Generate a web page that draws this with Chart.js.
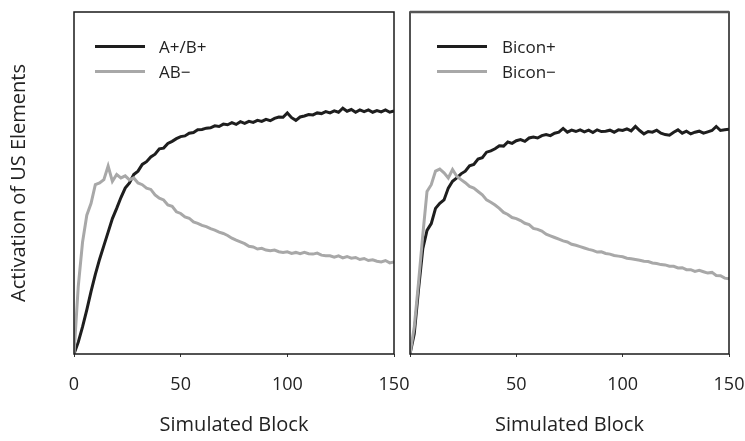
<!DOCTYPE html>
<html>
<head>
<meta charset="utf-8">
<script src="https://cdn.jsdelivr.net/npm/chart.js@4.4.1/dist/chart.umd.min.js"></script>
<style>
    body { margin: 0; background: #fff; }
    #wrap { position: relative; width: 745px; height: 441px; font-family: "Open Sans", sans-serif; }
    canvas { position: absolute; top: 0; }
    #leftChart { left: 0; }
    #rightChart { left: 400px; }
    .key { position: absolute; height: 20px; line-height: 20px; font-size: 17px; color: #222; white-space: nowrap; }
    .key span { position: absolute; top: 8px; width: 50px; height: 3px; }
    .key b { position: absolute; font-weight: normal; }
</style>
</head>
<body>
<div id="wrap">
    <canvas id="leftChart" width="420" height="441"></canvas>
    <canvas id="rightChart" width="345" height="441"></canvas>

    <div class="key" style="left:95px; top:37px;"><span style="background:#1e1e1e"></span><b style="left:64px">A+/B+</b></div>
    <div class="key" style="left:95px; top:62px;"><span style="background:#a8a8a8"></span><b style="left:64px">AB−</b></div>
    <div class="key" style="left:437px; top:37px;"><span style="background:#1e1e1e"></span><b style="left:65px">Bicon+</b></div>
    <div class="key" style="left:437px; top:62px;"><span style="background:#a8a8a8"></span><b style="left:65px">Bicon−</b></div>
</div>

<script>
const blocks = [0, 2, 4, 6, 8, 10, 12, 14, 16, 18, 20, 22, 24, 26, 28, 30, 32, 34, 36, 38,
    40, 42, 44, 46, 48, 50, 52, 54, 56, 58, 60, 62, 64, 66, 68, 70, 72, 74, 76, 78,
    80, 82, 84, 86, 88, 90, 92, 94, 96, 98, 100, 102, 104, 106, 108, 110, 112, 114, 116, 118,
    120, 122, 124, 126, 128, 130, 132, 134, 136, 138, 140, 142, 144, 146, 148, 150];

const xTicks = [0, 50, 100, 150];

// left panel: A+/B+ and AB-
const abPlus = [0.00, 0.035, 0.08, 0.13, 0.185, 0.235, 0.28, 0.32, 0.36, 0.40,
    0.43, 0.462, 0.49, 0.505, 0.53, 0.54, 0.56, 0.568, 0.582, 0.59,
    0.606, 0.608, 0.622, 0.628, 0.636, 0.642, 0.644, 0.652, 0.654, 0.662,
    0.663, 0.667, 0.668, 0.674, 0.672, 0.679, 0.677, 0.683, 0.678, 0.686,
    0.681, 0.687, 0.684, 0.69, 0.687, 0.693, 0.689, 0.696, 0.70, 0.699,
    0.712, 0.698, 0.69, 0.70, 0.703, 0.707, 0.706, 0.712, 0.71, 0.716,
    0.712, 0.718, 0.714, 0.726, 0.717, 0.722, 0.714, 0.721, 0.716, 0.721,
    0.714, 0.719, 0.715, 0.721, 0.714, 0.718];

const abMinus = [0.00, 0.20, 0.33, 0.41, 0.445, 0.50, 0.505, 0.515, 0.555, 0.51,
    0.53, 0.52, 0.526, 0.514, 0.52, 0.505, 0.50, 0.49, 0.486, 0.47,
    0.46, 0.455, 0.44, 0.436, 0.42, 0.415, 0.405, 0.401, 0.39, 0.386,
    0.38, 0.376, 0.37, 0.366, 0.36, 0.356, 0.35, 0.342, 0.336, 0.331,
    0.326, 0.318, 0.316, 0.31, 0.312, 0.307, 0.305, 0.307, 0.302, 0.30,
    0.302, 0.297, 0.30, 0.296, 0.30, 0.296, 0.295, 0.298, 0.292, 0.29,
    0.29, 0.286, 0.29, 0.284, 0.288, 0.283, 0.285, 0.279, 0.282, 0.276,
    0.278, 0.274, 0.272, 0.276, 0.269, 0.272];

// right panel: Bicon+ and Bicon-
const biconPlus = [0.00, 0.06, 0.19, 0.31, 0.365, 0.385, 0.43, 0.445, 0.455, 0.49,
    0.51, 0.52, 0.532, 0.54, 0.556, 0.56, 0.576, 0.58, 0.596, 0.60,
    0.606, 0.615, 0.614, 0.626, 0.622, 0.63, 0.633, 0.628, 0.638, 0.641,
    0.638, 0.645, 0.648, 0.645, 0.652, 0.655, 0.666, 0.655, 0.661, 0.657,
    0.662, 0.656, 0.661, 0.654, 0.662, 0.657, 0.658, 0.661, 0.655, 0.662,
    0.66, 0.665, 0.659, 0.672, 0.66, 0.65, 0.657, 0.655, 0.661, 0.652,
    0.648, 0.646, 0.655, 0.662, 0.652, 0.658, 0.65, 0.655, 0.658, 0.652,
    0.656, 0.66, 0.672, 0.66, 0.662, 0.664];

const biconMinus = [0.00, 0.08, 0.21, 0.35, 0.48, 0.50, 0.54, 0.546, 0.535, 0.52,
    0.545, 0.525, 0.515, 0.506, 0.495, 0.49, 0.48, 0.47, 0.455, 0.448,
    0.44, 0.43, 0.418, 0.412, 0.403, 0.40, 0.394, 0.386, 0.382, 0.371,
    0.368, 0.363, 0.354, 0.349, 0.344, 0.339, 0.334, 0.331, 0.324, 0.321,
    0.317, 0.313, 0.309, 0.306, 0.301, 0.302, 0.297, 0.295, 0.291, 0.289,
    0.287, 0.283, 0.281, 0.279, 0.277, 0.274, 0.273, 0.269, 0.267, 0.264,
    0.263, 0.259, 0.259, 0.254, 0.255, 0.249, 0.249, 0.244, 0.247, 0.243,
    0.239, 0.241, 0.232, 0.231, 0.224, 0.222];

const BLACK = '#1e1e1e';
const GREY = '#a8a8a8';
const FONT = '"Open Sans", sans-serif';

function toPoints(values) {
    return blocks.map((b, i) => ({ x: b, y: values[i] }));
}

function lineSet(label, values, color) {
    return {
        label: label,
        data: toPoints(values),
        borderColor: color,
        borderWidth: 3,
        pointRadius: 0,
        tension: 0,
        fill: false
    };
}

// box around the plot area
const frame = {
    id: 'frame',
    afterDraw(chart, args, opts) {
        const { ctx, chartArea: a } = chart;
        ctx.save();
        ctx.strokeStyle = '#1a1a1a';
        ctx.lineWidth = 1.5;
        ctx.strokeRect(a.left, a.top, a.right - a.left, a.bottom - a.top);
        if (opts.topColor) {
            ctx.strokeStyle = opts.topColor;
            ctx.lineWidth = 2.5;
            ctx.beginPath();
            ctx.moveTo(a.left, a.top);
            ctx.lineTo(a.right, a.top);
            ctx.stroke();
        }
        ctx.restore();
    }
};

function xScale(hideZero) {
    return {
        type: 'linear',
        min: 0,
        max: 150,
        afterBuildTicks: (s) => { s.ticks = xTicks.map(v => ({ value: v })); },
        afterFit: (s) => {
            // keep the plot edges where the layout padding puts them
            s.height = 87;
            s.paddingLeft = 0;
            s.paddingRight = 0;
        },
        grid: { display: true, drawOnChartArea: false, tickLength: 3, color: '#333' },
        border: { display: false },
        ticks: {
            padding: 17,
            color: '#222',
            font: { family: FONT, size: 18 },
            maxRotation: 0,
            callback: (v) => (hideZero && v === 0) ? '' : v
        },
        title: {
            display: true,
            text: 'Simulated Block',
            color: '#222',
            font: { family: FONT, size: 20 },
            padding: { top: 0, bottom: 4 }
        }
    };
}

function makePanel(id, sets, showYTitle, pad, topColor) {
    const y = {
        min: 0,
        max: 1.01,
        grid: { display: false },
        border: { display: false },
        ticks: { display: false }
    };
    if (showYTitle) {
        y.afterFit = (s) => {
            s.width = 74;
            s.paddingTop = 0;
            s.paddingBottom = 0;
        };
        y.title = {
            display: true,
            text: 'Activation of US Elements',
            color: '#222',
            font: { family: FONT, size: 20 },
            padding: { top: 7, bottom: 0 }
        };
    } else {
        y.display = false;
    }

    new Chart(document.getElementById(id), {
        type: 'line',
        data: { datasets: sets },
        options: {
            responsive: false,
            animation: false,
            devicePixelRatio: 1,
            layout: { padding: pad },
            plugins: {
                legend: { display: false },
                tooltip: { enabled: false },
                frame: { topColor: topColor }
            },
            scales: { x: xScale(!showYTitle), y: y }
        },
        plugins: [frame]
    });
}

makePanel('leftChart', [
    lineSet('AB−', abMinus, GREY),
    lineSet('A+/B+', abPlus, BLACK)
], true, { top: 12, right: 26, left: 0, bottom: 0 }, null);

makePanel('rightChart', [
    lineSet('Bicon−', biconMinus, GREY),
    lineSet('Bicon+', biconPlus, BLACK)
], false, { top: 12, right: 16, left: 10, bottom: 0 }, '#555');
</script>
</body>
</html>
